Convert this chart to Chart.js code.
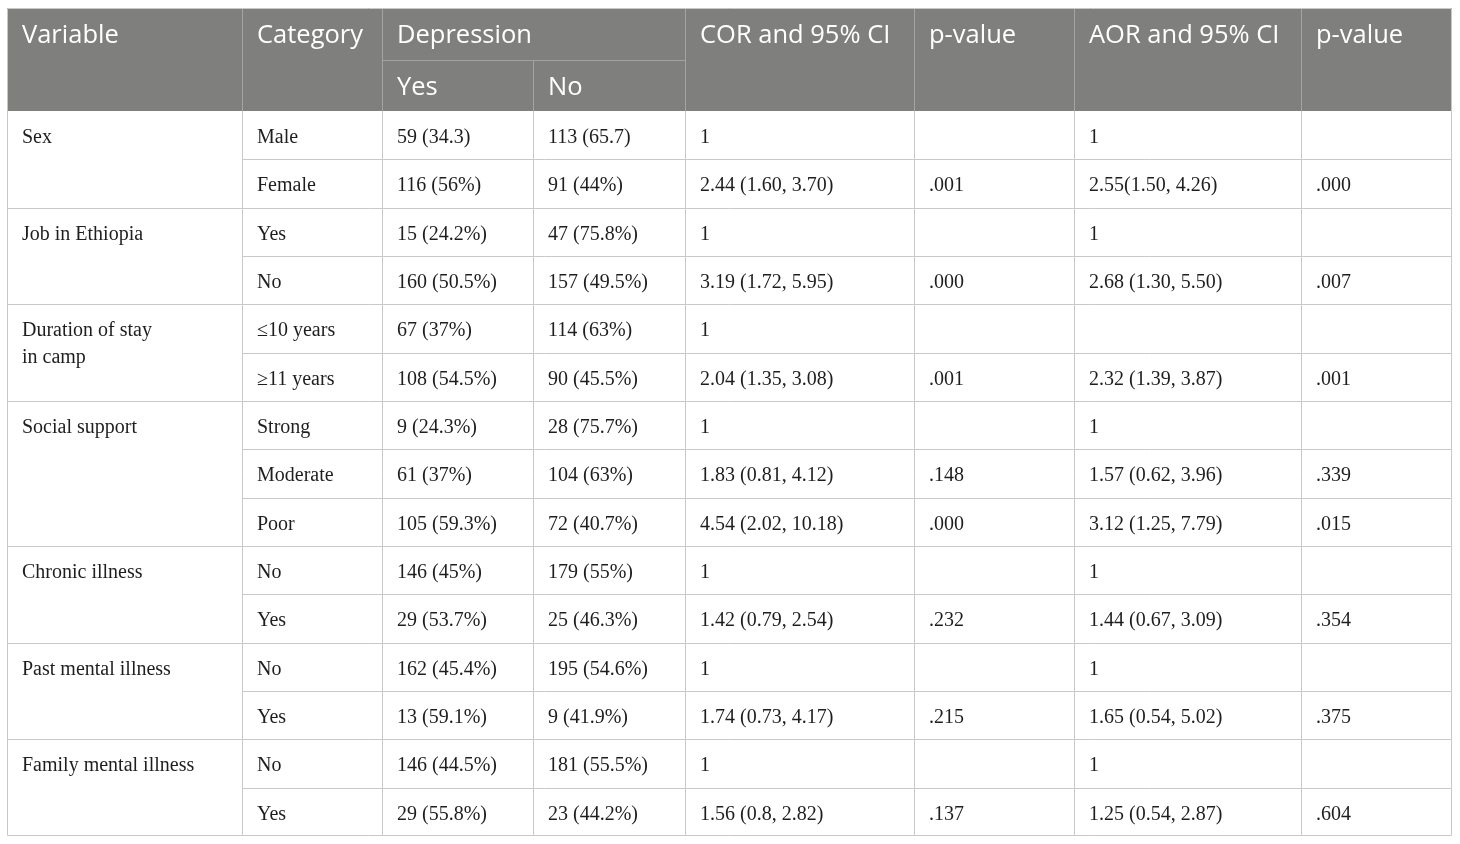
<!DOCTYPE html>
<html>
<head>
<meta charset="utf-8">
<script src="https://cdn.jsdelivr.net/npm/chart.js@4/dist/chart.umd.min.js"></script>
<style>
  html, body { margin: 0; padding: 0; background: #fff; }
  #wrap { width: 1460px; height: 844px; }
</style>
</head>
<body>
<div id="wrap"><canvas id="tableChart" width="1460" height="844"></canvas></div>
<script>
// table content
const headerTop = ['Variable', 'Category', 'Depression', '', 'COR and 95% CI', 'p-value', 'AOR and 95% CI', 'p-value'];
const headerSub = ['', '', 'Yes', 'No', '', '', '', ''];

const variables = ['Sex', 'Job in Ethiopia', 'Duration of stay\nin camp', 'Social support', 'Chronic illness', 'Past mental illness', 'Family mental illness'];
const groupSizes = [2, 2, 2, 3, 2, 2, 2];

const categories = ['Male', 'Female', 'Yes', 'No', '≤10 years', '≥11 years', 'Strong', 'Moderate', 'Poor', 'No', 'Yes', 'No', 'Yes', 'No', 'Yes'];
const depressionYes = ['59 (34.3)', '116 (56%)', '15 (24.2%)', '160 (50.5%)', '67 (37%)', '108 (54.5%)', '9 (24.3%)', '61 (37%)', '105 (59.3%)', '146 (45%)', '29 (53.7%)', '162 (45.4%)', '13 (59.1%)', '146 (44.5%)', '29 (55.8%)'];
const depressionNo = ['113 (65.7)', '91 (44%)', '47 (75.8%)', '157 (49.5%)', '114 (63%)', '90 (45.5%)', '28 (75.7%)', '104 (63%)', '72 (40.7%)', '179 (55%)', '25 (46.3%)', '195 (54.6%)', '9 (41.9%)', '181 (55.5%)', '23 (44.2%)'];
const corCI = ['1', '2.44 (1.60, 3.70)', '1', '3.19 (1.72, 5.95)', '1', '2.04 (1.35, 3.08)', '1', '1.83 (0.81, 4.12)', '4.54 (2.02, 10.18)', '1', '1.42 (0.79, 2.54)', '1', '1.74 (0.73, 4.17)', '1', '1.56 (0.8, 2.82)'];
const corP = ['', '.001', '', '.000', '', '.001', '', '.148', '.000', '', '.232', '', '.215', '', '.137'];
const aorCI = ['1', '2.55(1.50, 4.26)', '1', '2.68 (1.30, 5.50)', '', '2.32 (1.39, 3.87)', '1', '1.57 (0.62, 3.96)', '3.12 (1.25, 7.79)', '1', '1.44 (0.67, 3.09)', '1', '1.65 (0.54, 5.02)', '1', '1.25 (0.54, 2.87)'];
const aorP = ['', '.000', '', '.007', '', '.001', '', '.339', '.015', '', '.354', '', '.375', '', '.604'];

// layout (scale units)
const colEdges = [0, 235, 375, 526, 678, 907, 1067, 1294, 1445];
const headerEdges = [0, 52, 103];
const bodyRowHeight = 48.33;

const bodyRows = categories.map((c, i) => [null, c, depressionYes[i], depressionNo[i], corCI[i], corP[i], aorCI[i], aorP[i]]);

const tablePlugin = {
    id: 'tableDraw',
    afterDraw(chart) {
        const ctx = chart.ctx;
        const xs = chart.scales.x;
        const ys = chart.scales.y;
        const X = v => Math.round(xs.getPixelForValue(v));
        const Y = v => Math.round(ys.getPixelForValue(v));
        const rowTop = r => headerEdges[2] + r * bodyRowHeight;
        const nRows = bodyRows.length;
        const bottom = rowTop(nRows);

        ctx.save();

        // header background
        ctx.fillStyle = '#7f807e';
        ctx.fillRect(X(0), Y(0), X(colEdges[8]) - X(0), Y(headerEdges[2]) - Y(0));

        // header grid
        ctx.strokeStyle = '#a3a4a2';
        ctx.lineWidth = 1;
        ctx.beginPath();
        colEdges.forEach((c, i) => {
            if (i === 0 || i === colEdges.length - 1) return;
            let y0 = headerEdges[0];
            if (i === 3) y0 = headerEdges[1];
            ctx.moveTo(X(c) + 0.5, Y(y0));
            ctx.lineTo(X(c) + 0.5, Y(headerEdges[2]));
        });
        ctx.moveTo(X(colEdges[2]), Y(headerEdges[1]) + 0.5);
        ctx.lineTo(X(colEdges[4]), Y(headerEdges[1]) + 0.5);
        ctx.stroke();

        // body grid
        ctx.strokeStyle = '#c9c9c9';
        ctx.beginPath();
        // outer border
        ctx.rect(X(0) + 0.5, Y(0) + 0.5, X(colEdges[8]) - X(0) - 1, Y(bottom) - Y(0) - 1);
        colEdges.forEach((c, i) => {
            if (i === 0 || i === colEdges.length - 1) return;
            ctx.moveTo(X(c) + 0.5, Y(headerEdges[2]));
            ctx.lineTo(X(c) + 0.5, Y(bottom));
        });
        let r = 0;
        groupSizes.forEach((g, gi) => {
            for (let k = 1; k <= g; k++) {
                const yy = Y(rowTop(r + k)) + 0.5;
                const startCol = (k === g) ? 0 : 1;
                if (r + k === nRows) continue;
                ctx.moveTo(X(colEdges[startCol]), yy);
                ctx.lineTo(X(colEdges[8]), yy);
            }
            r += g;
        });
        ctx.stroke();

        // header text
        ctx.fillStyle = '#ffffff';
        ctx.font = '25.5px "Open Sans"';
        ctx.textBaseline = 'alphabetic';
        headerTop.forEach((t, i) => {
            if (t) ctx.fillText(t, X(colEdges[i] + 15), Y(headerEdges[0] + 35));
        });
        headerSub.forEach((t, i) => {
            if (t) ctx.fillText(t, X(colEdges[i] + 15), Y(headerEdges[1] + 35));
        });

        // body text
        ctx.fillStyle = '#1e1e1e';
        ctx.font = '20px "Liberation Serif"';
        r = 0;
        groupSizes.forEach((g, gi) => {
            variables[gi].split('\n').forEach((line, li) => {
                ctx.fillText(line, X(colEdges[0] + 15), Y(rowTop(r) + 32 + li * 27));
            });
            r += g;
        });
        bodyRows.forEach((row, ri) => {
            row.forEach((cell, ci) => {
                if (cell) ctx.fillText(cell, X(colEdges[ci] + 15), Y(rowTop(ri) + 32));
            });
        });

        ctx.restore();
    }
};

new Chart(document.getElementById('tableChart'), {
    type: 'scatter',
    data: { datasets: [{ data: [] }] },
    options: {
        responsive: false,
        animation: false,
        layout: { padding: { left: 7, top: 8, right: 8, bottom: 8 } },
        plugins: { legend: { display: false }, tooltip: { enabled: false } },
        scales: {
            x: { type: 'linear', min: 0, max: colEdges[8], display: false },
            y: { type: 'linear', min: 0, max: headerEdges[2] + bodyRowHeight * categories.length, reverse: true, display: false }
        }
    },
    plugins: [tablePlugin]
});
</script>
</body>
</html>
